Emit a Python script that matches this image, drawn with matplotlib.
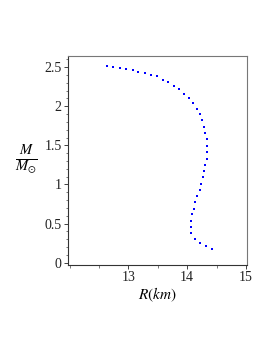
import matplotlib
matplotlib.use("Agg")
import matplotlib.pyplot as plt
import matplotlib.ticker as ticker

# --- Mass-radius curve (R in km, M in solar masses) ---
R_KM = [12.63, 12.74, 12.85, 12.95, 13.07, 13.17, 13.28, 13.38, 13.49, 13.59,
        13.68, 13.77, 13.86, 13.95, 14.03, 14.10, 14.16, 14.21, 14.25, 14.29,
        14.31, 14.33, 14.34, 14.34, 14.33, 14.31, 14.29, 14.27, 14.23, 14.21,
        14.17, 14.14, 14.11, 14.08, 14.06, 14.06, 14.07, 14.14, 14.22, 14.32,
        14.42]
M_SUN = [2.51, 2.50, 2.485, 2.47, 2.46, 2.44, 2.42, 2.40, 2.38, 2.34,
         2.31, 2.26, 2.22, 2.16, 2.10, 2.04, 1.97, 1.90, 1.82, 1.74,
         1.66, 1.58, 1.49, 1.41, 1.33, 1.25, 1.17, 1.09, 1.01, 0.93,
         0.855, 0.775, 0.69, 0.62, 0.53, 0.46, 0.38, 0.30, 0.25, 0.21,
         0.18]

X_TICKS = [13, 14, 15]
Y_TICKS = [0, 0.5, 1, 1.5, 2, 2.5]
Y_TICK_LABELS = ["0", "0.5", "1", "1.5", "2", "2.5"]

plt.rcParams['font.family'] = ['Liberation Serif', 'DejaVu Serif']
plt.rcParams['mathtext.fontset'] = 'stix'

fig = plt.figure(figsize=(2.73, 3.53), dpi=100)
ax = fig.add_axes([0.249, 0.249, 0.656, 0.592])

ax.scatter(R_KM, M_SUN, s=3.2, color='blue', marker='s', linewidths=0)

ax.set_xlim(11.97, 15.02)
ax.set_ylim(-0.03, 2.64)

ax.set_xticks(X_TICKS)
ax.set_yticks(Y_TICKS)
ax.set_yticklabels(Y_TICK_LABELS)
ax.xaxis.set_minor_locator(ticker.MultipleLocator(0.5))
ax.yaxis.set_minor_locator(ticker.MultipleLocator(0.1))
ax.tick_params(which='major', length=3, width=0.6, labelsize=10, pad=1.5, colors='#222222')
ax.tick_params(which='minor', length=1.8, width=0.5, colors='#444444')

for side in ['left', 'bottom']:
    ax.spines[side].set_color('#333333')
    ax.spines[side].set_linewidth(0.8)
for side in ['top', 'right']:
    ax.spines[side].set_color('#777777')
    ax.spines[side].set_linewidth(0.8)

ax.set_xlabel(r'$R(km)$', fontsize=11, labelpad=1)
ax.set_ylabel(r'$\frac{M}{M_{\odot}}$', fontsize=15, rotation=0, labelpad=13, va='center')

fig.savefig('out.png', dpi=100)
